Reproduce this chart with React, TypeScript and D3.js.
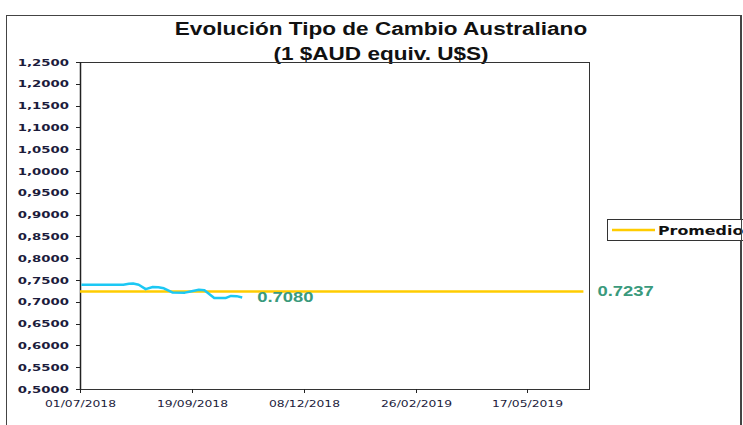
import React from "react";
import * as d3 from "d3";

// tipo de cambio AUD -> USD
const fechas = [
  "2018-07-02", "2018-08-01", "2018-08-05", "2018-08-08", "2018-08-12",
  "2018-08-17", "2018-08-22", "2018-08-26", "2018-08-30", "2018-09-05",
  "2018-09-14", "2018-09-18", "2018-09-24", "2018-09-28", "2018-10-05",
  "2018-10-13", "2018-10-17", "2018-10-21", "2018-10-25",
];
const valores = [
  0.7390, 0.7390, 0.7415, 0.7420, 0.7390,
  0.7290, 0.7340, 0.7335, 0.7310, 0.7215,
  0.7210, 0.7235, 0.7275, 0.7265, 0.7085,
  0.7085, 0.7135, 0.7130, 0.7100,
];
const promedio = 0.7237;
const promedioDesde = "2018-07-01";
const promedioHasta = "2019-06-26";
const ultimoValor = "0.7080";

const yTicks = [0.5, 0.55, 0.6, 0.65, 0.7, 0.75, 0.8, 0.85, 0.9, 0.95, 1.0, 1.05, 1.1, 1.15, 1.2, 1.25];
const xTicks = ["2018-07-01", "2018-09-19", "2018-12-08", "2019-02-26", "2019-05-17"];

const W = 743;
const H = 425;
const margin = { top: 62, right: 154, bottom: 36, left: 80 };

const parse = d3.timeParse("%Y-%m-%d");
const fmtFecha = d3.timeFormat("%d/%m/%Y");

// el original viene estirado en horizontal, se imita con scale(x)
function Txt(props: any) {
  const { x, y, sx = 1.27, children, ...rest } = props;
  return (
    <text transform={`translate(${x},${y}) scale(${sx},1)`} {...rest}>
      {children}
    </text>
  );
}

export default function App() {
  const x = d3.scaleTime()
    .domain([parse("2018-07-01")!, parse("2019-06-30")!])
    .range([margin.left, W - margin.right]);
  const y = d3.scaleLinear()
    .domain([0.5, 1.25])
    .range([H - margin.bottom, margin.top]);

  const serie = fechas.map((f, i) => ({ d: parse(f)!, v: valores[i] }));
  const linea = d3.line<{ d: Date; v: number }>()
    .x(p => x(p.d))
    .y(p => y(p.v));

  const x0 = margin.left;
  const x1 = W - margin.right;
  const y0 = H - margin.bottom;
  const ult = serie[serie.length - 1];

  return (
    <svg width={W} height={H} style={{ position: "absolute", left: 0, top: 0, background: "#fff" }}>
      {/* marco exterior */}
      <rect x={6.5} y={15.5} width={734} height={420} fill="#fff" stroke="#444" strokeWidth={1} />

      <Txt x={381} y={35} sx={1.22} textAnchor="middle" fontFamily="Liberation Sans" fontWeight="bold" fontSize={18.5} fill="#111">
        Evolución Tipo de Cambio Australiano
      </Txt>
      <Txt x={381} y={60} sx={1.22} textAnchor="middle" fontFamily="Liberation Sans" fontWeight="bold" fontSize={18.5} fill="#111">
        (1 $AUD equiv. U$S)
      </Txt>

      {/* area del grafico */}
      <rect x={x0 + 0.5} y={margin.top + 0.5} width={x1 - x0} height={y0 - margin.top} fill="none" stroke="#333" strokeWidth={1} />
      <line x1={x0 + 0.5} x2={x0 + 0.5} y1={margin.top} y2={y0} stroke="#222" strokeWidth={1.5} />

      {yTicks.map(t => (
        <g key={t}>
          <line x1={x0 - 4} x2={x0} y1={Math.round(y(t)) + 0.5} y2={Math.round(y(t)) + 0.5} stroke="#222" />
          <Txt x={x0 - 11} y={y(t) + 3.5} sx={1.4} textAnchor="end" fontFamily="DejaVu Sans" fontWeight="bold" fontSize={9.5} fill="#1c1c3c">
            {d3.format(".4f")(t).replace(".", ",")}
          </Txt>
        </g>
      ))}

      {xTicks.map(t => {
        const px = Math.round(x(parse(t)!)) + 0.5;
        return (
          <g key={t}>
            <line x1={px} x2={px} y1={y0} y2={y0 + 4} stroke="#222" />
            <Txt x={px} y={y0 + 18} sx={1.3} textAnchor="middle" fontFamily="DejaVu Sans" fontSize={9.5} fill="#1c1c3c">
              {fmtFecha(parse(t)!)}
            </Txt>
          </g>
        );
      })}

      {/* promedio */}
      <line
        x1={x(parse(promedioDesde)!)} x2={x(parse(promedioHasta)!)}
        y1={y(promedio)} y2={y(promedio)}
        stroke="#ffcc00" strokeWidth={2.5}
      />
      <path d={linea(serie) ?? ""} fill="none" stroke="#1cc8f4" strokeWidth={2.5} strokeLinejoin="round" />

      <Txt x={x(ult.d) + 15} y={y(ult.v) + 5} textAnchor="start" fontFamily="Liberation Sans" fontWeight="bold" fontSize={14.5} fill="#3a9a7c">
        {ultimoValor}
      </Txt>
      <Txt x={x(parse(promedioHasta)!) + 14} y={y(promedio) + 5} textAnchor="start" fontFamily="Liberation Sans" fontWeight="bold" fontSize={14.5} fill="#3a9a7c">
        {promedio.toFixed(4)}
      </Txt>

      {/* leyenda */}
      <rect x={607.5} y={219.5} width={140} height={21} fill="#fff" stroke="#333" />
      <line x1={612} x2={655} y1={230} y2={230} stroke="#ffcc00" strokeWidth={2.5} />
      <Txt x={658} y={234.5} sx={1.22} textAnchor="start" fontFamily="DejaVu Sans" fontWeight="bold" fontSize={13} fill="#111">
        Promedio
      </Txt>
      <line x1={741.5} x2={741.5} y1={15} y2={H} stroke="#444" />
    </svg>
  );
}
